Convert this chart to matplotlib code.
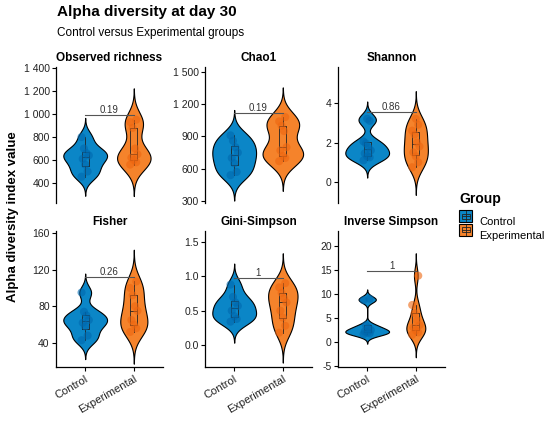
import numpy as np
import matplotlib
matplotlib.use("Agg")
import matplotlib.pyplot as plt
from matplotlib.patches import Patch, Rectangle
from matplotlib.lines import Line2D
from matplotlib.legend_handler import HandlerBase
from matplotlib.cbook import boxplot_stats

plt.rcParams['font.family'] = ['Liberation Sans', 'DejaVu Sans']

groups = ['Control', 'Experimental']
metrics = ['Observed richness', 'Chao1', 'Shannon', 'Fisher', 'Gini-Simpson', 'Inverse Simpson']

# values, one list per group and index
observed_control = [455, 500, 560, 610, 640, 660, 700, 800]
observed_exp = [560, 580, 600, 620, 650, 700, 880, 930, 950]
chao1_control = [540, 570, 650, 700, 750, 800, 860, 910]
chao1_exp = [670, 700, 720, 770, 800, 950, 1000, 1040, 1080]
shannon_control = [1.1, 1.25, 1.3, 1.45, 1.6, 1.75, 1.95, 2.05, 3.1, 3.2]
shannon_exp = [0.75, 1.0, 1.3, 1.5, 1.8, 2.0, 2.4, 2.6, 2.9, 3.2]
fisher_control = [43, 48, 58, 62, 65, 70, 74, 95]
fisher_exp = [52, 56, 60, 65, 75, 80, 92, 100, 107]
gini_control = [0.34, 0.38, 0.42, 0.5, 0.57, 0.62, 0.7, 0.88]
gini_exp = [0.18, 0.28, 0.4, 0.5, 0.62, 0.68, 0.76, 0.84, 0.9]
invsimp_control = [1.6, 1.8, 2.0, 2.2, 2.5, 3.0, 3.5, 8.7, 9.0]
invsimp_exp = [1.5, 2.0, 2.4, 3.0, 3.5, 4.5, 6.0, 7.7, 13.8]

p_values = ['0.19', '0.19', '0.86', '0.26', '1', '1']
bracket_y = [990, 1120, 3.55, 112, 0.98, 14.7]

y_limits = [(226, 1409), (281, 1546), (-1.06, 5.82), (13.8, 162), (-0.32, 1.66), (-5.2, 23.1)]
y_ticks = [[400, 600, 800, 1000, 1200, 1400], [300, 600, 900, 1200, 1500], [0, 2, 4],
           [40, 80, 120, 160], [0.0, 0.5, 1.0, 1.5], [-5, 0, 5, 10, 15, 20]]
y_ticklabels = [['400', '600', '800', '1 000', '1 200', '1 400'],
                ['300', '600', '900', '1 200', '1 500'], ['0', '2', '4'],
                ['40', '80', '120', '160'], ['0.0', '0.5', '1.0', '1.5'],
                ['-5', '0', '5', '10', '15', '20']]

data = [(observed_control, observed_exp), (chao1_control, chao1_exp),
        (shannon_control, shannon_exp), (fisher_control, fisher_exp),
        (gini_control, gini_exp), (invsimp_control, invsimp_exp)]

fill_cols = ['#0B86C7', '#F5832B']
dot_cols = ['#0068AE', '#EE6610']


def bw_nrd0(x):
    x = np.asarray(x, float)
    q75, q25 = np.percentile(x, [75, 25])
    lo = min(np.std(x, ddof=1), (q75 - q25) / 1.34)
    return 0.9 * lo * len(x) ** -0.2


def kde(x):
    # gaussian density like ggplot's stat_ydensity, tails cut at 3 bandwidths
    x = np.asarray(x, float)
    bw = bw_nrd0(x)
    ys = np.linspace(x.min() - 3 * bw, x.max() + 3 * bw, 512)
    d = np.exp(-0.5 * ((ys[:, None] - x[None, :]) / bw) ** 2).sum(1)
    d = d / (len(x) * bw * np.sqrt(2 * np.pi))
    return ys, d


class ViolinKey(HandlerBase):
    def create_artists(self, legend, orig_handle, xd, yd, width, height, fontsize, trans):
        fc = orig_handle.get_facecolor()
        rect = Rectangle((xd, yd), width, height, facecolor=fc, edgecolor='black',
                         linewidth=0.8, transform=trans)
        cx = xd + width / 2
        box = Rectangle((cx - width * 0.3, yd + height * 0.3), width * 0.6, height * 0.4,
                        facecolor='none', edgecolor='#222222', linewidth=0.6, transform=trans)
        med = Line2D([cx - width * 0.3, cx + width * 0.3], [yd + height / 2] * 2,
                     color='#222222', linewidth=0.6, transform=trans)
        wh = Line2D([cx, cx], [yd + height * 0.1, yd + height * 0.9],
                    color='#222222', linewidth=0.6, transform=trans)
        return [rect, wh, box, med]


W, H = 550, 422
fig = plt.figure(figsize=(5.5, 4.22), dpi=100)

col_left = [56, 205, 338]
row_top = [67, 231]
pw, ph = 107, 136

for k in range(6):
    r, c = divmod(k, 3)
    ax = fig.add_axes([col_left[c] / W, (H - row_top[r] - ph) / H, pw / W, ph / H])
    dens = [kde(g) for g in data[k]]
    maxd = max(d.max() for _, d in dens)
    for i, (ys, d) in enumerate(dens):
        pos = i + 1
        w = 0.45 * d / maxd
        ax.fill_betweenx(ys, pos - w, pos + w, facecolor=fill_cols[i],
                         edgecolor='black', linewidth=0.8, zorder=1)
    for i, g in enumerate(data[k]):
        st = boxplot_stats(np.asarray(g, float))
        ax.bxp(st, positions=[i + 1], widths=0.15, showfliers=False, showcaps=False,
               patch_artist=False, manage_ticks=False,
               boxprops=dict(color='#222222', linewidth=0.6),
               whiskerprops=dict(color='#222222', linewidth=0.6),
               medianprops=dict(color='#222222', linewidth=0.6), zorder=2)
        n = len(g)
        jit = np.array([((j * 5) % 7 - 3) * 0.025 for j in range(n)])
        ax.scatter(np.full(n, i + 1) + jit, g, s=34, color=dot_cols[i], alpha=0.6,
                   edgecolors='none', zorder=3)
    ax.plot([1, 2], [bracket_y[k], bracket_y[k]], color='#555555', lw=0.8, zorder=4)
    ax.text(1.5, bracket_y[k], p_values[k], ha='center', va='bottom', fontsize=7,
            color='#333333', zorder=4)

    ax.set_xlim(0.4, 2.6)
    ax.set_ylim(*y_limits[k])
    ax.set_yticks(y_ticks[k])
    ax.set_yticklabels(y_ticklabels[k], fontsize=7.5, color='#222222')
    for s in ['top', 'right']:
        ax.spines[s].set_visible(False)
    ax.spines['left'].set_linewidth(0.9)
    ax.tick_params(axis='y', length=3, width=0.8, pad=1.5)
    if r == 0:
        ax.spines['bottom'].set_visible(False)
        ax.set_xticks([])
    else:
        ax.spines['bottom'].set_linewidth(0.9)
        ax.set_xticks([1, 2])
        ax.set_xticklabels(groups, rotation=30, ha='right', rotation_mode='anchor',
                           fontsize=8, color='#222222')
        ax.tick_params(axis='x', length=3, width=0.8, pad=2)
    ax.set_title(metrics[k], fontsize=8.5, fontweight='bold', pad=4)

fig.text(57 / W, 1 - 12 / H, 'Alpha diversity at day 30', fontsize=11, fontweight='bold',
         va='center', ha='left')
fig.text(57 / W, 1 - 33 / H, 'Control versus Experimental groups', fontsize=8.5,
         va='center', ha='left')
fig.text(13 / W, 1 - 217 / H, 'Alpha diversity index value', fontsize=9.5, fontweight='bold',
         rotation=90, va='center', ha='center')

# legend: title placed on its own so the gap above the keys matches
fig.text(459 / W, 1 - 199 / H, 'Group', fontsize=10, fontweight='bold', va='center', ha='left')
handles = [Patch(facecolor=fill_cols[i], edgecolor='black', linewidth=0.8) for i in range(2)]
leg = fig.legend(handles, groups, loc='upper left', bbox_to_anchor=(459 / W, 1 - 215 / H),
                 frameon=False, fontsize=8, borderpad=0,
                 handlelength=1.2, handleheight=1.35, handletextpad=0.6, labelspacing=0.12,
                 borderaxespad=0, handler_map={Patch: ViolinKey()})

fig.savefig('out.png', dpi=100)
